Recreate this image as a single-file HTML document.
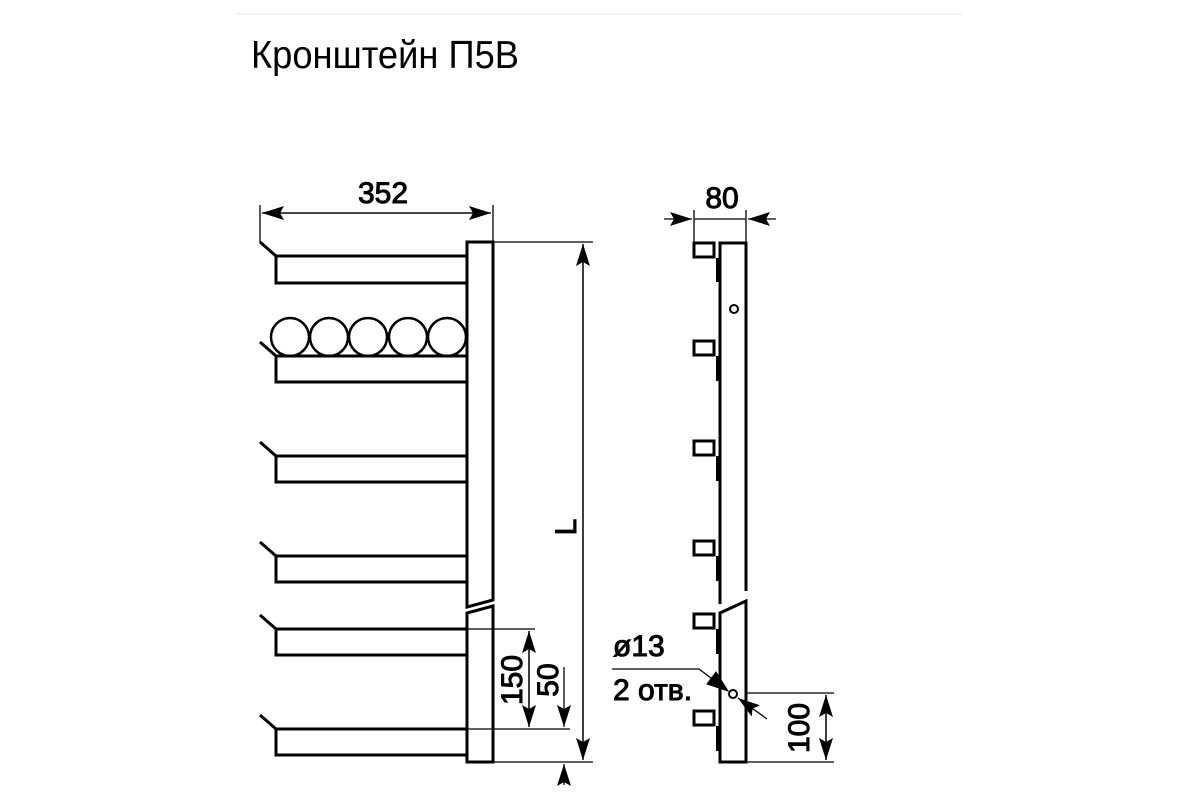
<!DOCTYPE html>
<html><head><meta charset="utf-8"><style>
html,body{margin:0;padding:0;background:#fff;}
svg{display:block;}
text{font-family:"Liberation Sans","Noto Sans CJK SC",sans-serif;fill:#000;}
</style></head><body>
<svg width="1200" height="800" viewBox="0 0 1200 800" xmlns="http://www.w3.org/2000/svg">
<line x1="235" y1="14" x2="962" y2="14" stroke="#eee" stroke-width="1.5"/>
<text x="251" y="68" font-size="39" textLength="268" lengthAdjust="spacingAndGlyphs">Кронштейн П5В</text>

<defs>
<marker id="a" viewBox="0 0 22 14" refX="22" refY="7" markerWidth="22" markerHeight="14" markerUnits="userSpaceOnUse" orient="auto"><path d="M0,0 L22,7 L0,14 L4,7 Z" fill="#000"/></marker>
</defs>

<g stroke="#000" fill="none">
<path d="M467,607 L467,242 L493,242 L493,600 Z" stroke-width="3"/>
<path d="M467,762 L467,613 L493,606 L493,762 Z" stroke-width="3"/>
<g stroke-width="3">
<rect x="276" y="256" width="191" height="27"/>
<rect x="276" y="356" width="191" height="26"/>
<rect x="276" y="456" width="191" height="26"/>
<rect x="276" y="556" width="191" height="26"/>
<rect x="276" y="629" width="191" height="26"/>
<rect x="276" y="729" width="191" height="26"/>
<path d="M260,242 L276,256 M260,342 L276,356 M260,442 L276,456 M260,542 L276,556 M260,615 L276,629 M260,715 L276,729"/>
</g>
<g stroke-width="2.5">
<circle cx="290" cy="337" r="19"/><circle cx="329" cy="337" r="19"/><circle cx="368" cy="337" r="19"/><circle cx="408" cy="337" r="19"/><circle cx="447" cy="337" r="19"/>
</g>
<g stroke-width="1.3">
<line x1="260" y1="205" x2="260" y2="242"/>
<line x1="493" y1="205" x2="493" y2="242"/>
<line x1="262" y1="213" x2="491" y2="213" marker-end="url(#a)"/>
<line x1="491" y1="213" x2="262" y2="213" marker-end="url(#a)"/>
<line x1="493" y1="242" x2="593" y2="242"/>
<line x1="493" y1="762" x2="593" y2="762"/>
<line x1="583" y1="760" x2="583" y2="244" marker-end="url(#a)"/>
<line x1="583" y1="244" x2="583" y2="760" marker-end="url(#a)"/>
<line x1="467" y1="629" x2="535" y2="629"/>
<line x1="467" y1="729" x2="570" y2="729"/>
<line x1="529" y1="727" x2="529" y2="631" marker-end="url(#a)"/>
<line x1="529" y1="631" x2="529" y2="727" marker-end="url(#a)"/>
<line x1="564" y1="667" x2="564" y2="727" marker-end="url(#a)"/>
<line x1="564" y1="785" x2="564" y2="764" marker-end="url(#a)"/>

<path d="M720,604 L720,243 L746,243 L746,591" stroke-width="3"/>
<path d="M720,762 L720,613 L746,601 L746,762 Z" stroke-width="3"/>
</g>
<g stroke="#000" stroke-width="3" fill="none">
<rect x="694" y="243" width="20" height="14"/>
<rect x="694" y="341" width="20" height="14"/>
<rect x="694" y="441" width="20" height="14"/>
<rect x="694" y="541" width="20" height="14"/>
<rect x="694" y="614" width="20" height="14"/>
<rect x="694" y="711" width="20" height="14"/>
</g>
<g stroke="#000" stroke-width="4">
<line x1="718" y1="258" x2="718" y2="282"/><line x1="718" y1="356" x2="718" y2="381"/><line x1="718" y1="456" x2="718" y2="481"/><line x1="718" y1="556" x2="718" y2="581"/><line x1="718" y1="629" x2="718" y2="654"/><line x1="718" y1="726" x2="718" y2="751"/>
</g>
<g stroke="#000" fill="none" stroke-width="2">
<circle cx="734" cy="309" r="4"/>
<circle cx="733" cy="694" r="4"/>
</g>
<g stroke="#000" fill="none" stroke-width="1.3">
<line x1="694" y1="210" x2="694" y2="243"/>
<line x1="746" y1="210" x2="746" y2="243"/>
<line x1="664" y1="219" x2="692" y2="219" marker-end="url(#a)"/>
<line x1="776" y1="219" x2="748" y2="219" marker-end="url(#a)"/>
<line x1="694" y1="219" x2="746" y2="219"/>
<line x1="746" y1="693" x2="834" y2="693"/>
<line x1="746" y1="762" x2="834" y2="762"/>
<line x1="826" y1="760" x2="826" y2="695" marker-end="url(#a)"/>
<line x1="826" y1="695" x2="826" y2="760" marker-end="url(#a)"/>
<polyline points="612,669 699,669 727,690"/>
<line x1="767" y1="719" x2="738" y2="698" marker-end="url(#a)"/>
</g>
<path d="M728,691 L707,684 L716,672 Z" fill="#000"/>

<text x="383" y="203" font-size="30" text-anchor="middle">352</text>
<text x="722" y="208" font-size="30" text-anchor="middle">80</text>
<text x="0" y="0" font-size="30" text-anchor="middle" transform="translate(576 527) rotate(-90)">L</text>
<text x="0" y="0" font-size="30" text-anchor="middle" transform="translate(522 680) rotate(-90)">150</text>
<text x="0" y="0" font-size="30" text-anchor="middle" transform="translate(558 680) rotate(-90)">50</text>
<text x="0" y="0" font-size="30" text-anchor="middle" transform="translate(809 728) rotate(-90)">100</text>
<text x="613" y="656" font-size="30">ø13</text>
<text x="613" y="700" font-size="30">2 отв.</text>
</svg>
</body></html>
